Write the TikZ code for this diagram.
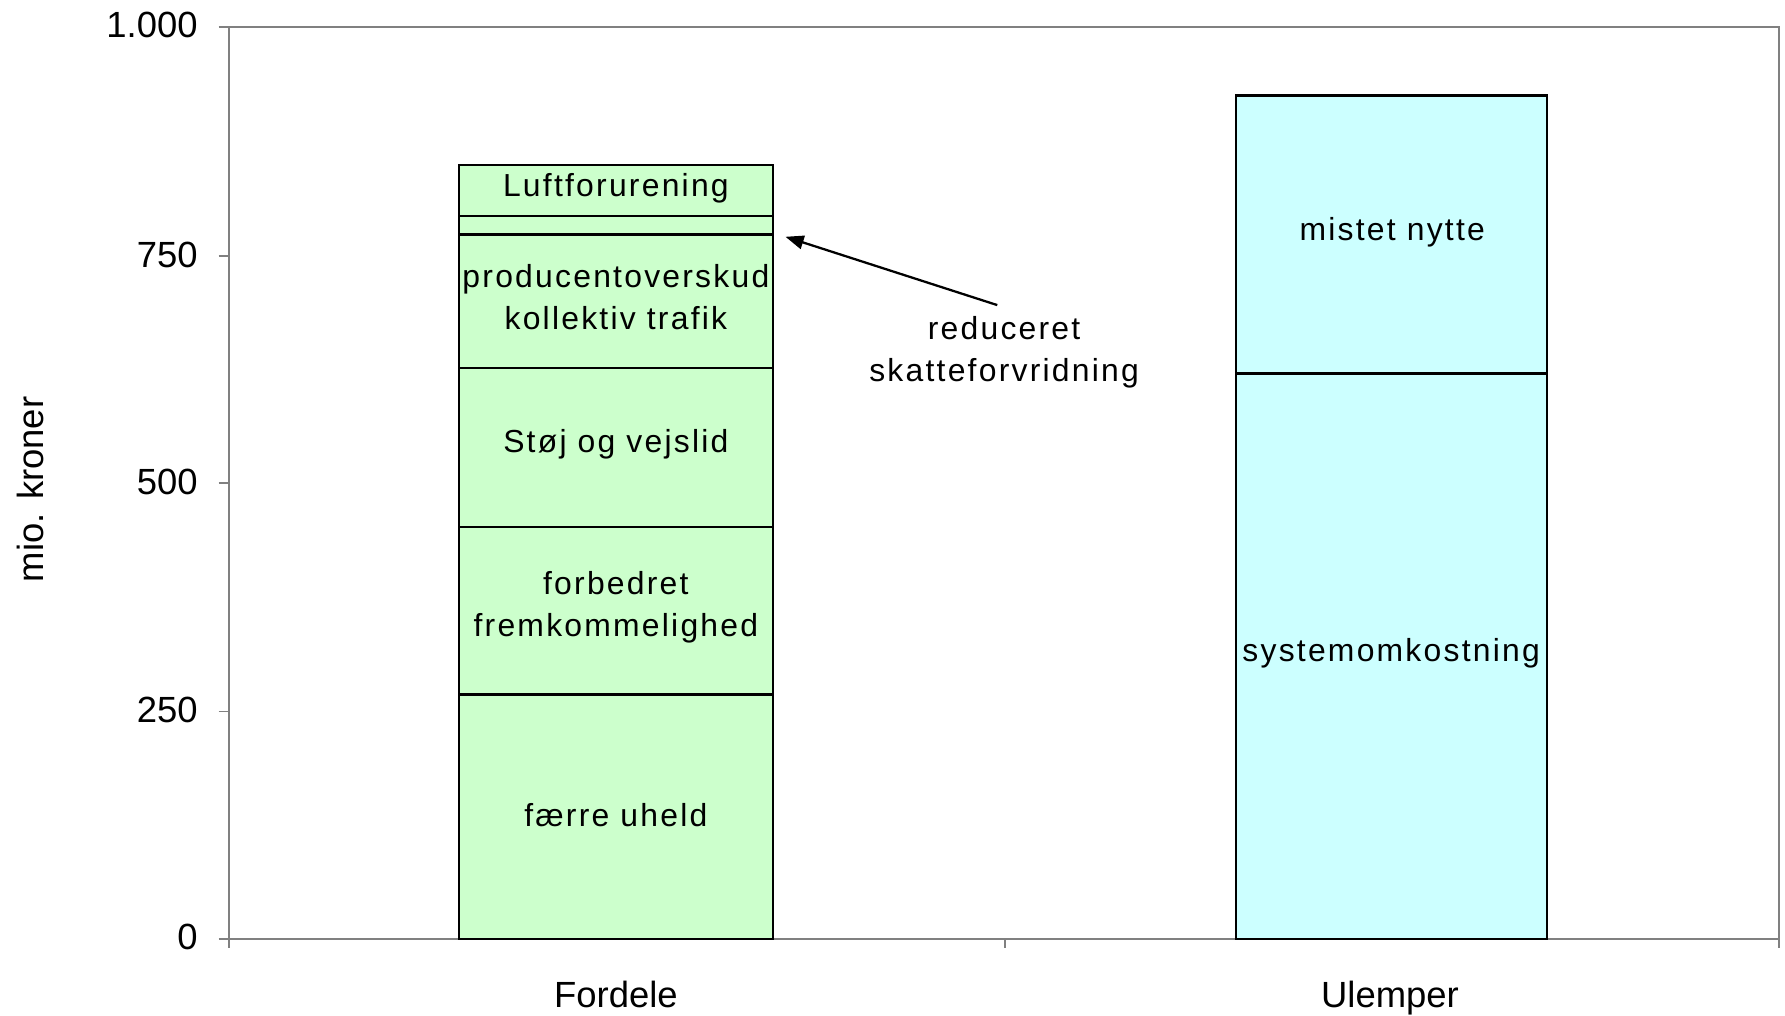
\documentclass[tikz,border=0pt]{standalone}
\usepackage{fontspec}
\setmainfont{Liberation Sans}
\newfontfamily\spaced[LetterSpace=7]{Liberation Sans}
\usetikzlibrary{arrows.meta}
\definecolor{gfill}{HTML}{CCFFCC}
\definecolor{cfill}{HTML}{CCFFFF}
\definecolor{axgray}{HTML}{808080}
\tikzset{
  axis/.style={draw=axgray, line width=0.75pt},
  gseg/.style={draw=black, fill=gfill, line width=1pt, inner sep=0pt, minimum width=138pt},
  cseg/.style={draw=black, fill=cfill, line width=1pt, inner sep=0pt, minimum width=136.5pt},
  lbl/.style={inner sep=0pt, align=center, font=\spaced\fontsize{14}{18.5}\selectfont},
  ticklbl/.style={inner sep=0pt, anchor=east, font=\fontsize{16}{19}\selectfont},
  catlbl/.style={inner sep=0pt, anchor=base, font=\fontsize{16}{19}\selectfont},
  pointer/.style={draw=black, line width=1pt, -{Triangle[length=8pt,width=6pt]}}
}
\begin{document}
\begin{tikzpicture}[x=0.5pt,y=-0.5pt]
\useasboundingbox (0,0) rectangle (1568,892);
% plot frame and axes
\draw[axis] (201,24) -- (1563,24) -- (1563,833);
\draw[axis] (201,24) -- (201,833);
\draw[axis] (201,825) -- (1563,825);
\foreach \yy in {24,225,424,625,825} \draw[axis] (192,\yy) -- (201,\yy);
\draw[axis] (883,825) -- (883,833);
% tick labels
\node[ticklbl] (t1000) at (174,22) {1.000};
\node[ticklbl] (t750) at (174,224) {750};
\node[ticklbl] (t500) at (174,423) {500};
\node[ticklbl] (t250) at (174,624) {250};
\node[ticklbl] (t0) at (174,823) {0};
\node[inner sep=0pt, rotate=90, font=\fontsize{16}{19}\selectfont] (ylab) at (27,430) {mio. kroner};
% left bar (Fordele)
\node[gseg, minimum height=107.5pt] (s1) at (541,717.5) {};
\node[gseg, minimum height=73.5pt] (s2) at (541,536.5) {};
\node[gseg, minimum height=70pt] (s3) at (541,393) {};
\node[gseg, minimum height=58.5pt] (s4) at (541,264.5) {};
\node[gseg, minimum height=8pt] (s5) at (541,198) {};
\node[gseg, minimum height=22.5pt] (s6) at (541,167.5) {};
\node[lbl] (l1) at (541,716) {færre uheld};
\node[lbl] (l2) at (541,533.5) {forbedret\\fremkommelighed};
\node[lbl] (l3) at (541,390) {Støj og vejslid};
\node[lbl] (l4) at (541,261) {producentoverskud\\kollektiv trafik};
\node[lbl] (l6) at (541,165) {Luftforurening};
% right bar (Ulemper)
\node[cseg, minimum height=248.5pt] (r1) at (1222.5,576.5) {};
\node[cseg, minimum height=122pt] (r2) at (1222.5,206) {};
\node[lbl] (m1) at (1222,574) {systemomkostning};
\node[lbl] (m2) at (1223,204) {mistet nytte};
% annotation
\node[lbl] (ann) at (882,309.5) {reduceret\\skatteforvridning};
\coordinate (astart) at (876,268);
\coordinate (aend) at (690,208);
\draw[pointer] (astart) -- (aend);
% category labels
\node[catlbl] (c1) at (541,885) {Fordele};
\node[catlbl] (c2) at (1221,885) {Ulemper};
\end{tikzpicture}
\end{document}
